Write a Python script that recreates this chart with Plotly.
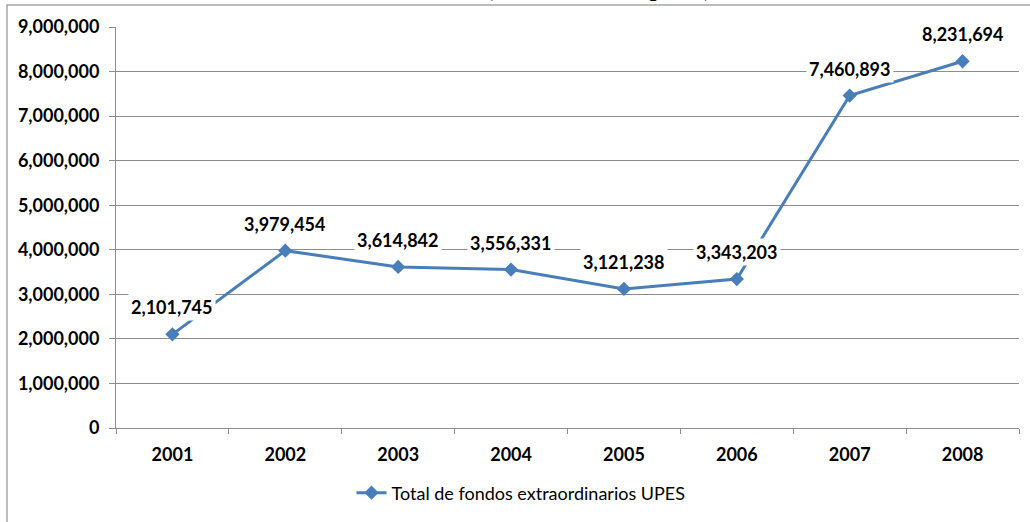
import plotly.graph_objects as go

# data
years = ["2001", "2002", "2003", "2004", "2005", "2006", "2007", "2008"]
totals = [2101745, 3979454, 3614842, 3556331, 3121238, 3343203, 7460893, 8231694]
series_name = "Total de fondos extraordinarios UPES"
title_text = "(Monto total en pesos)"

blue = "#4a7ebb"
grid = "#8c8c8c"
label_font = dict(family="Lato", size=18, color="#000000", weight="bold")

fig = go.Figure()
fig.add_trace(go.Scatter(
   x=years,
   y=totals,
   mode="lines+markers",
   name=series_name,
   line=dict(color=blue, width=3),
   marker=dict(symbol="diamond", size=11, color=blue),
))

# data labels with white boxes, like Excel
# (x given as category index: "2001" would be read as an index otherwise)
for i, v in enumerate(totals):
   fig.add_annotation(
      x=i, y=v, text="{:,}".format(v),
      showarrow=False, yshift=27, yanchor="middle",
      bgcolor="white", borderpad=2, font=label_font,
   )

# title, mostly cut off at the top of the picture
fig.add_annotation(
   xref="paper", yref="paper", x=(598 - 116) / 903, y=1 + (27 - 3.5) / 401,
   text="<b>" + title_text + "</b>", showarrow=False,
   xanchor="center", yanchor="bottom",
   font=dict(family="Liberation Serif", size=24, color="#000000"),
)

# chart area border
fig.add_shape(
   type="rect", xref="paper", yref="paper",
   x0=(7 - 116) / 903, x1=1.1, y0=-0.3, y1=1 + (27 - 5) / 401,
   line=dict(color="#a6a6a6", width=1.5), fillcolor="rgba(0,0,0,0)",
   layer="below",
)

fig.update_xaxes(
   type="category", range=[-0.5, 7.5],
   showline=True, linecolor=grid, linewidth=1,
   ticks="outside", tickson="boundaries", ticklen=5, tickcolor=grid,
   showgrid=False,
   tickfont=label_font,
   ticklabelstandoff=10,
)
fig.update_yaxes(
   range=[0, 9000000], dtick=1000000, tickformat=",",
   showline=True, linecolor=grid, linewidth=1,
   ticks="outside", ticklen=6, tickcolor=grid,
   showgrid=True, gridcolor=grid, gridwidth=1,
   zeroline=False,
   tickfont=label_font,
   ticklabelstandoff=6,
)
fig.update_layout(
   width=1030, height=522,
   margin=dict(l=116, r=11, t=27, b=94),
   plot_bgcolor="white", paper_bgcolor="white",
   showlegend=True,
   legend=dict(
      orientation="h", x=(521 - 116) / 903, xanchor="center",
      y=1 - (493 - 27) / 401, yanchor="middle",
      font=dict(family="Lato", size=18, color="#000000"),
   ),
)

# drop the page's default body margin so the figure sits at the top-left
fig.write_html(
   "out.html",
   config={"displayModeBar": False},
   post_script="document.body.style.margin='0px';",
)
